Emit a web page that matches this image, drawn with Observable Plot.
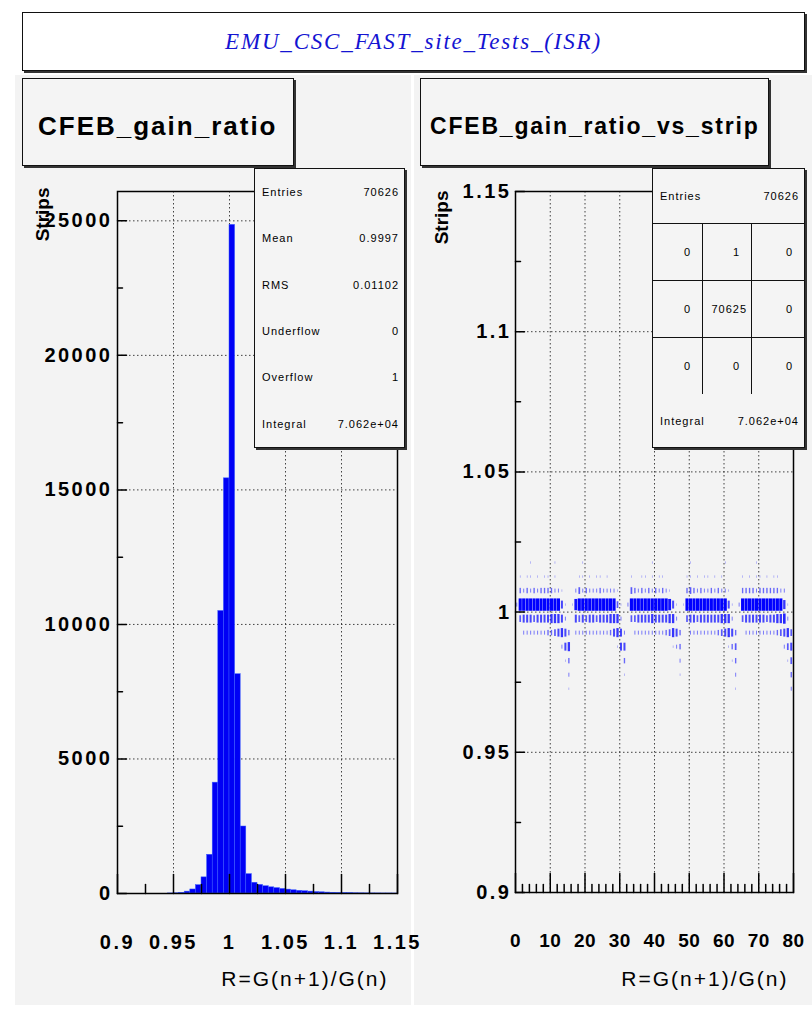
<!DOCTYPE html>
<html>
<head>
<meta charset="utf-8">
<script src="https://cdn.jsdelivr.net/npm/d3@7"></script>
<script src="https://cdn.jsdelivr.net/npm/@observablehq/plot@0.6"></script>
<style>
html,body{margin:0;padding:0;background:#fff;}
#page{position:relative;width:812px;height:1010px;overflow:hidden;font-family:"Liberation Sans",Arial,Helvetica,sans-serif;}
.pad{position:absolute;background:#f3f3f3;}
.box{position:absolute;box-sizing:border-box;border:1px solid #111;box-shadow:2px 2px 0 #333;background:#f4f4f4;}
#title{left:22px;top:12px;width:783px;height:59px;background:#fff;display:flex;align-items:center;justify-content:center;font-family:"Liberation Serif","Times New Roman",serif;font-style:italic;font-size:23px;color:#1414d2;letter-spacing:1.8px;}
.ptitle{top:78px;height:88px;display:flex;align-items:center;font-weight:bold;color:#000;padding-top:8px;}
.stats{top:168px;height:280px;font-size:11px;letter-spacing:1px;color:#000;display:flex;flex-direction:column;}
.srow{flex:1;display:flex;justify-content:space-between;align-items:center;padding:0 5px 0 7px;}
.plotwrap{position:absolute;top:165px;}
.grow{display:flex;border-bottom:1px solid #111;height:56px;}
.gcell{display:flex;align-items:center;justify-content:flex-end;box-sizing:border-box;}
</style>
</head>
<body>
<div id="page">
  <div class="pad" style="left:15px;top:75px;width:396px;height:930px;"></div>
  <div class="pad" style="left:414px;top:75px;width:398px;height:930px;"></div>
  <div class="box" id="title"></div>
  <div class="box ptitle" id="ltitle" style="left:22px;width:272px;font-size:26px;letter-spacing:2px;padding-left:15px;"></div>
  <div class="box ptitle" id="rtitle" style="left:420px;width:349px;font-size:23px;letter-spacing:1.8px;padding-left:9px;"></div>
  <div class="plotwrap" id="leftPlot" style="left:15px;"></div>
  <div class="plotwrap" id="rightPlot" style="left:414px;"></div>
  <div class="box stats" id="lstats" style="left:254px;width:151px;"></div>
  <div class="box stats" id="rstats" style="left:652px;width:153px;"></div>
</div>
<script>
// ---------- texts ----------
const pageTitle = "EMU_CSC_FAST_site_Tests_(ISR)";
const leftTitle = "CFEB_gain_ratio";
const rightTitle = "CFEB_gain_ratio_vs_strip";
const yTitle = "Strips";
const xTitle = "R=G(n+1)/G(n)";

// ---------- left histogram data ----------
const histBinWidth = 0.005;
const histBinLow = [0.945,0.95,0.955,0.96,0.965,0.97,0.975,0.98,0.985,0.99,0.995,1.0,1.005,1.01,1.015,1.02,1.025,1.03,1.035,1.04,1.045,1.05,1.055,1.06,1.065,1.07,1.075,1.08,1.085,1.09,1.095,1.1,1.105,1.11,1.115,1.12,1.125,1.13,1.135,1.14,1.145];
const histCounts = [3,8,25,70,150,310,600,1440,4120,10500,15430,24850,8150,2490,720,400,320,270,230,200,170,145,120,100,85,70,55,45,35,28,20,15,12,9,7,5,4,3,2,2,1];

const leftXTicks = [0.9,0.95,1,1.05,1.1,1.15];
const leftXMinor = [0.925,0.975,1.025,1.075,1.125];
const leftYTicks = [0,5000,10000,15000,20000,25000];
const leftYMinor = [2500,7500,12500,17500,22500];

const leftStatLabels = ["Entries","Mean","RMS","Underflow","Overflow","Integral"];
const leftStatValues = ["70626","0.9997","0.01102","0","1","7.062e+04"];

// ---------- right 2D (strip vs ratio) data ----------
// lower edge of each ratio bin (bin width 0.005) and box level (0-9) per strip, 5 CFEBs x 16 strips
const ratioBinWidth = 0.005;
const ratioBinLow = [1.015,1.010,1.005,1.000,0.995,0.990,0.985,0.980,0.975,0.970];
const stripLevels = [
  ["0000100000010000","0001000000000000","0000000100000000","0010000000001000","0000010000000000"],
  ["0101101011010000","0011010110100000","0100110101100000","0110101101010000","0101011010110000"],
  ["0323232333322100","0242322232222100","0432323232321000","0343232232322100","0333323333332200"],
  ["2999999999999510","1899999999999410","2999999999998510","1999999999999510","2999999999999610"],
  ["0455545555666520","0545455455566620","0445555655556620","0455455555566620","0455555545566720"],
  ["0022222223345653","0222222222235652","0022222222234653","0022222222345653","0022222222234564"],
  ["0000000000000256","0000000000000155","0000000000000123","0000000000000134","0000000000000245"],
  ["0000000000000013","0000000000000003","0000000000000002","0000000000000013","0000000000000014"],
  ["0000000000000002","0000000000000001","0000000000000001","0000000000000002","0000000000000003"],
  ["0000000000000001","0000000000000000","0000000000000000","0000000000000001","0000000000000002"]
];
const rightXTicks = [0,10,20,30,40,50,60,70,80];
const rightXMinor = [2,4,6,8,12,14,16,18,22,24,26,28,32,34,36,38,42,44,46,48,52,54,56,58,62,64,66,68,72,74,76,78];
const rightYTicks = [0.9,0.95,1,1.05,1.1,1.15];
const rightYMinor = [0.925,0.975,1.025,1.075,1.125];

const rightEntries = "70626";
const rightGrid = [["0","1","0"],["0","70625","0"],["0","0","0"]];
const rightIntegral = "7.062e+04";

// ---------- build tables ----------
const hist = histBinLow.map((lo, i) => ({lo, n: histCounts[i]}));
const cells = [];
ratioBinLow.forEach((lo, r) => {
  const row = stripLevels[r].join("");
  for (let s = 0; s < row.length; s++) {
    const lv = +row[s];
    if (lv > 0) cells.push({strip: s, lo, lv});
  }
});
const boxFrac = d => Math.pow(d.lv / 9, 0.75);

// ---------- styling helpers ----------
const tickUp = {draw(ctx, l) { ctx.moveTo(0, 0); ctx.lineTo(0, -l); }};
const tickRight = {draw(ctx, l) { ctx.moveTo(0, 0); ctx.lineTo(l, 0); }};
const gridStyle = {stroke: "#222", strokeOpacity: 0.85, strokeDasharray: "1.5,2.5", strokeWidth: 1};
const svgStyle = {background: "transparent", fontFamily: "'Liberation Sans', Arial, Helvetica, sans-serif", overflow: "visible"};
const fmt = d => String(d);
const labelFont = {fontSize: 20, fontWeight: "bold", label: null, tickFormat: fmt};
function spaceTexts(svg, xSpacing) {
  svg.querySelectorAll('g[aria-label="y-axis tick label"] text').forEach(t => t.style.letterSpacing = "2.5px");
  svg.querySelectorAll('g[aria-label="x-axis tick label"] text').forEach(t => t.style.letterSpacing = xSpacing);
  svg.querySelectorAll("text").forEach(t => { if (t.textContent === xTitle) t.style.letterSpacing = "2px"; });
}

// ---------- left plot ----------
const leftChart = Plot.plot({
  width: 396, height: 840,
  marginLeft: 102, marginRight: 14, marginTop: 26, marginBottom: 112,
  x: {domain: [0.9, 1.15]},
  y: {domain: [0, 26090]},
  style: svgStyle,
  marks: [
    Plot.gridX(leftXTicks.slice(1, -1), gridStyle),
    Plot.gridY(leftYTicks.slice(1), gridStyle),
    Plot.rect(hist, {x1: "lo", x2: d => d.lo + histBinWidth, y1: d => 0, y2: "n", fill: "#0000f5", stroke: "#3a5cff", strokeWidth: 0.5}),
    Plot.vector(leftXMinor, {x: d => d, frameAnchor: "bottom", length: 9, anchor: "start", shape: tickUp, stroke: "#000"}),
    Plot.vector(leftXTicks, {x: d => d, frameAnchor: "bottom", length: 19, anchor: "start", shape: tickUp, stroke: "#000"}),
    Plot.vector(leftYMinor, {y: d => d, frameAnchor: "left", length: 5, anchor: "start", shape: tickRight, stroke: "#000"}),
    Plot.vector(leftYTicks, {y: d => d, frameAnchor: "left", length: 9, anchor: "start", shape: tickRight, stroke: "#000"}),
    Plot.frame({stroke: "#000", strokeWidth: 1.5}),
    Plot.axisX(leftXTicks, {tickSize: 0, tickPadding: 41, ...labelFont}),
    Plot.axisY(leftYTicks, {tickSize: 0, tickPadding: 5, ...labelFont}),
    Plot.text([yTitle], {text: d => d, frameAnchor: "top-left", rotate: -90, textAnchor: "end", dx: -82, dy: -4, fontSize: 19, fontWeight: "bold"}),
    Plot.text([xTitle], {text: d => d, frameAnchor: "bottom-right", textAnchor: "end", dx: -9, dy: 92, fontSize: 21})
  ]
});
spaceTexts(leftChart, "2.5px");
document.getElementById("leftPlot").appendChild(leftChart);

// ---------- right plot ----------
const rightChart = Plot.plot({
  width: 398, height: 840,
  marginLeft: 101, marginRight: 19, marginTop: 26, marginBottom: 113,
  x: {domain: [0, 80]},
  y: {domain: [0.9, 1.15]},
  style: svgStyle,
  marks: [
    Plot.gridX(rightXTicks.slice(1, -1), gridStyle),
    Plot.gridY(rightYTicks.slice(1, -1), gridStyle),
    Plot.rect(cells, {
      x1: d => d.strip + 0.5 - 0.45 * boxFrac(d),
      x2: d => d.strip + 0.5 + 0.45 * boxFrac(d),
      y1: d => d.lo + ratioBinWidth / 2 - ratioBinWidth * 0.44 * boxFrac(d),
      y2: d => d.lo + ratioBinWidth / 2 + ratioBinWidth * 0.44 * boxFrac(d),
      fill: "#0000ff",
      fillOpacity: d => 0.35 + 0.65 * d.lv / 9
    }),
    Plot.vector(rightXMinor, {x: d => d, frameAnchor: "bottom", length: 8, anchor: "start", shape: tickUp, stroke: "#000"}),
    Plot.vector(rightXTicks, {x: d => d, frameAnchor: "bottom", length: 19, anchor: "start", shape: tickUp, stroke: "#000"}),
    Plot.vector(rightYMinor, {y: d => d, frameAnchor: "left", length: 5, anchor: "start", shape: tickRight, stroke: "#000"}),
    Plot.vector(rightYTicks, {y: d => d, frameAnchor: "left", length: 9, anchor: "start", shape: tickRight, stroke: "#000"}),
    Plot.frame({stroke: "#000", strokeWidth: 1.5}),
    Plot.axisX(rightXTicks, {tickSize: 0, tickPadding: 41, ...labelFont, fontSize: 19}),
    Plot.axisY(rightYTicks, {tickSize: 0, tickPadding: 4, ...labelFont}),
    Plot.text([yTitle], {text: d => d, frameAnchor: "top-left", rotate: -90, textAnchor: "end", dx: -81, dy: -1, fontSize: 19, fontWeight: "bold"}),
    Plot.text([xTitle], {text: d => d, frameAnchor: "bottom-right", textAnchor: "end", dx: -5, dy: 93, fontSize: 21})
  ]
});
spaceTexts(rightChart, "0.5px");
document.getElementById("rightPlot").appendChild(rightChart);

// ---------- HTML boxes ----------
document.getElementById("title").textContent = pageTitle;
document.getElementById("ltitle").textContent = leftTitle;
document.getElementById("rtitle").textContent = rightTitle;

const lsBox = document.getElementById("lstats");
leftStatLabels.forEach((lab, i) => {
  const row = document.createElement("div");
  row.className = "srow";
  row.innerHTML = `<span>${lab}</span><span>${leftStatValues[i]}</span>`;
  lsBox.appendChild(row);
});

const rsBox = document.getElementById("rstats");
const entriesRow = document.createElement("div");
entriesRow.className = "srow";
entriesRow.style.cssText = "flex:none;height:55px;border-bottom:1px solid #111;box-sizing:border-box;";
entriesRow.innerHTML = `<span>Entries</span><span>${rightEntries}</span>`;
rsBox.appendChild(entriesRow);
const colW = [50, 49, 52];
const colPad = [[11, 11, 11], [11, 4, 11], [11, 11, 11]];
rightGrid.forEach((r, ri) => {
  const row = document.createElement("div");
  row.className = "grow";
  if (ri === 2) row.style.borderBottom = "none";
  r.forEach((v, ci) => {
    const c = document.createElement("div");
    c.className = "gcell";
    c.style.width = colW[ci] + "px";
    c.style.paddingRight = colPad[ri][ci] + "px";
    if (ci < 2) c.style.borderRight = "1px solid #111";
    c.textContent = v;
    row.appendChild(c);
  });
  rsBox.appendChild(row);
});
const integralRow = document.createElement("div");
integralRow.className = "srow";
integralRow.style.cssText = "flex:1;";
integralRow.innerHTML = `<span>Integral</span><span>${rightIntegral}</span>`;
rsBox.appendChild(integralRow);
</script>
</body>
</html>
